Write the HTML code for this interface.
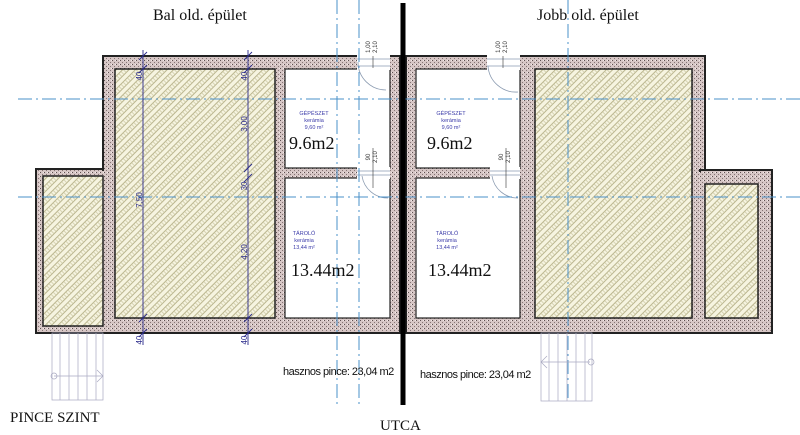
<!DOCTYPE html>
<html><head><meta charset="utf-8"><style>
html,body{margin:0;padding:0;background:#fff;width:800px;height:435px;overflow:hidden}
svg{display:block}
.s{font-family:"Liberation Serif",serif}
.a{font-family:"Liberation Sans",sans-serif}
</style></head><body>
<svg width="800" height="435" viewBox="0 0 800 435" xmlns="http://www.w3.org/2000/svg">
<defs>
<pattern id="h" width="9" height="9" patternUnits="userSpaceOnUse" patternTransform="rotate(-45)">
<rect width="9" height="9" fill="#f6f4e0"/>
<line x1="0" y1="1" x2="9" y2="1" stroke="#b3ae85" stroke-width="0.9"/>
<line x1="0" y1="5.5" x2="9" y2="5.5" stroke="#b3ae85" stroke-width="0.9"/>
<line x1="2" y1="1" x2="2" y2="5.5" stroke="#c9c5a0" stroke-width="0.7"/>
<line x1="5" y1="1" x2="5" y2="5.5" stroke="#c9c5a0" stroke-width="0.7"/>
<line x1="8" y1="1" x2="8" y2="5.5" stroke="#c9c5a0" stroke-width="0.7"/>
</pattern>
<pattern id="w" width="4" height="4" patternUnits="userSpaceOnUse">
<rect width="4" height="4" fill="#d6c6c5"/>
<rect x="0" y="0" width="1" height="1" fill="#5d4f4f"/>
<rect x="2" y="2" width="1" height="1" fill="#857575"/>
<rect x="3" y="0" width="1" height="1" fill="#f3eaea"/>
</pattern>
</defs>

<g stroke="#222" stroke-width="2">
<rect x="36" y="169" width="72" height="164" fill="url(#w)"/>
<rect x="103" y="56" width="297" height="277" fill="url(#w)"/>
<rect x="406" y="56" width="299" height="277" fill="url(#w)"/>
<rect x="700" y="170" width="72" height="163" fill="url(#w)"/>
</g>
<rect x="100" y="171" width="8" height="161" fill="url(#w)"/>
<rect x="698" y="172" width="9" height="160" fill="url(#w)"/>
<g stroke="#222" stroke-width="1.5">
<rect x="43" y="176" width="60" height="150" fill="url(#h)"/>
<rect x="115" y="69" width="160" height="249" fill="url(#h)"/>
<rect x="535" y="69" width="157" height="249" fill="url(#h)"/>
<rect x="705" y="184" width="53" height="134" fill="url(#h)"/>
</g>
<g fill="#fff" stroke="#222" stroke-width="1.2">
<rect x="285" y="69" width="105" height="99"/>
<rect x="285" y="178" width="105" height="140"/>
<rect x="416" y="69" width="104" height="99"/>
<rect x="416" y="178" width="104" height="140"/>
</g>
<g fill="#fff">
<rect x="357" y="55" width="33" height="15"/>
<rect x="357" y="167" width="33" height="12"/>
<rect x="487" y="55" width="33" height="15"/>
<rect x="490" y="167" width="30" height="12"/>
</g>
<g fill="none" stroke="#8a9ab0" stroke-width="0.8">
<line x1="357" y1="59" x2="390" y2="59"/><line x1="357" y1="66" x2="390" y2="66"/>
<path d="M358 62 A28 28 0 0 0 386 90"/>
<line x1="357" y1="171" x2="390" y2="171"/><line x1="357" y1="175" x2="390" y2="175"/>
<path d="M362 176 A26 26 0 0 0 388 198"/>
<line x1="487" y1="59" x2="520" y2="59"/><line x1="487" y1="66" x2="520" y2="66"/>
<path d="M488 66 A28 28 0 0 0 518 92"/>
<line x1="490" y1="171" x2="520" y2="171"/><line x1="490" y1="175" x2="520" y2="175"/>
<path d="M492 176 A26 26 0 0 0 518 198"/>
</g>
<g stroke="#4a90c8" stroke-width="1" stroke-dasharray="14,4,2,4" fill="none">
<line x1="18" y1="99" x2="800" y2="99"/>
<line x1="18" y1="197" x2="800" y2="197"/>
<line x1="337" y1="0" x2="337" y2="405"/>
<line x1="359" y1="0" x2="359" y2="405"/>
<line x1="568" y1="0" x2="568" y2="400"/>
</g>
<g stroke="#2a2a8a" stroke-width="0.9">
<line x1="143" y1="50" x2="143" y2="345"/>
<line x1="248" y1="50" x2="248" y2="345"/>
<line x1="139" y1="60" x2="147" y2="52"/><line x1="139" y1="73" x2="147" y2="65"/>
<line x1="244" y1="60" x2="252" y2="52"/><line x1="244" y1="73" x2="252" y2="65"/>
<line x1="244" y1="172" x2="252" y2="164"/><line x1="244" y1="182" x2="252" y2="174"/>
<line x1="139" y1="322" x2="147" y2="314"/><line x1="139" y1="337" x2="147" y2="329"/>
<line x1="244" y1="322" x2="252" y2="314"/><line x1="244" y1="337" x2="252" y2="329"/>
</g>
<g class="a" font-size="8" fill="#2a2a8a" text-anchor="middle">
<text transform="translate(142,76) rotate(-90)">40</text>
<text transform="translate(247,76) rotate(-90)">40</text>
<text transform="translate(142,200) rotate(-90)">7,50</text>
<text transform="translate(247,124) rotate(-90)">3,00</text>
<text transform="translate(247,186) rotate(-90)">30</text>
<text transform="translate(247,252) rotate(-90)">4,20</text>
<text transform="translate(142,340) rotate(-90)">40</text>
<text transform="translate(247,340) rotate(-90)">40</text>
</g>
<g class="a" font-size="6" fill="#333" text-anchor="middle">
<text transform="translate(370,47) rotate(-90)">1,00</text>
<text transform="translate(377,47) rotate(-90)">2,10</text>
<text transform="translate(370,157) rotate(-90)">90</text>
<text transform="translate(377,157) rotate(-90)">2,10</text>
<text transform="translate(500,47) rotate(-90)">1,00</text>
<text transform="translate(507,47) rotate(-90)">2,10</text>
<text transform="translate(503,157) rotate(-90)">90</text>
<text transform="translate(510,157) rotate(-90)">2,10</text>
</g>
<g stroke="#333" stroke-width="0.6">
<line x1="373" y1="56" x2="373" y2="68"/><line x1="503" y1="56" x2="503" y2="68"/>
<line x1="373" y1="148" x2="373" y2="188"/><line x1="506" y1="148" x2="506" y2="188"/>
</g>
<g class="a" font-size="5.5" fill="#3a3aa8" text-anchor="middle">
<text x="314" y="115">GÉPÉSZET</text><text x="314" y="122">kerámia</text><text x="314" y="129">9,60 m²</text>
<text x="304" y="235">TÁROLÓ</text><text x="304" y="242">kerámia</text><text x="304" y="249">13,44 m²</text>
<text x="451" y="115">GÉPÉSZET</text><text x="451" y="122">kerámia</text><text x="451" y="129">9,60 m²</text>
<text x="447" y="235">TÁROLÓ</text><text x="447" y="242">kerámia</text><text x="447" y="249">13,44 m²</text>
</g>
<g class="s" font-size="18" fill="#111">
<text x="289" y="149">9.6m2</text>
<text x="291" y="276">13.44m2</text>
<text x="427" y="149">9.6m2</text>
<text x="428" y="276">13.44m2</text>
</g>
<g stroke="#a8a8c0" stroke-width="0.7" fill="none">
<rect x="52" y="333" width="51" height="67"/>
<line x1="60" y1="333" x2="60" y2="400"/><line x1="69" y1="333" x2="69" y2="400"/><line x1="78" y1="333" x2="78" y2="400"/><line x1="87" y1="333" x2="87" y2="400"/><line x1="96" y1="333" x2="96" y2="400"/>
<line x1="54" y1="376" x2="103" y2="376"/><circle cx="54" cy="376" r="3"/>
<path d="M97 370 L103 376 L97 382"/>
<rect x="541" y="333" width="51" height="68"/>
<line x1="549" y1="333" x2="549" y2="401"/><line x1="558" y1="333" x2="558" y2="401"/><line x1="567" y1="333" x2="567" y2="401"/><line x1="576" y1="333" x2="576" y2="401"/><line x1="585" y1="333" x2="585" y2="401"/>
<line x1="541" y1="362" x2="590" y2="362"/><circle cx="591" cy="362" r="3"/>
<path d="M547 356 L541 362 L547 368"/>
</g>
<line x1="403" y1="3" x2="403" y2="405" stroke="#000" stroke-width="5"/>
<g class="s" fill="#111">
<text x="153" y="20" font-size="16">Bal old. épület</text>
<text x="537" y="20" font-size="16">Jobb old. épület</text>
<text x="10" y="422" font-size="15">PINCE SZINT</text>
<text x="380" y="430" font-size="15">UTCA</text>
</g>
<g class="a" font-size="11" fill="#111" letter-spacing="-0.5">
<text x="283" y="375">hasznos pince: 23,04 m2</text>
<text x="420" y="378">hasznos pince: 23,04 m2</text>
</g>
</svg>
</body></html>
